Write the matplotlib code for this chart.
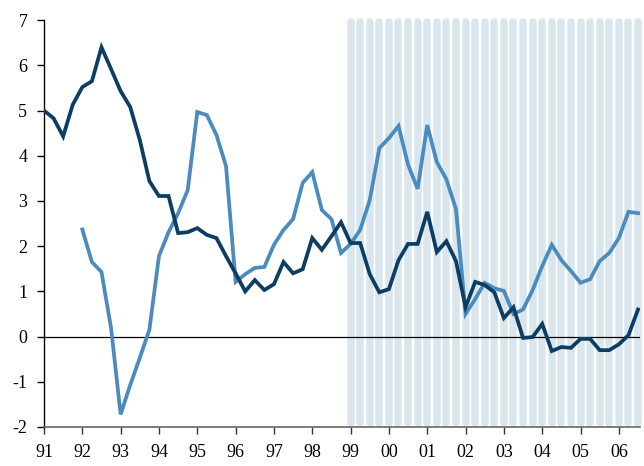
import numpy as np
import matplotlib
matplotlib.use("Agg")
import matplotlib.pyplot as plt

# quarterly series, start 1991Q1 (dark) and 1992Q1 (light)
dark = [5.0, 4.83, 4.43, 5.13, 5.52, 5.65, 6.4, 5.92, 5.43, 5.08,
        4.35, 3.44, 3.11, 3.11, 2.29, 2.31, 2.4, 2.25, 2.18, 1.78,
        1.4, 1.0, 1.25, 1.03, 1.16, 1.65, 1.4, 1.49, 2.18, 1.92,
        2.22, 2.53, 2.07, 2.07, 1.38, 0.98, 1.05, 1.69, 2.05, 2.05,
        2.76, 1.87, 2.11, 1.67, 0.65, 1.21, 1.14, 0.98, 0.41, 0.65,
        -0.03, -0.01, 0.28, -0.32, -0.23, -0.25, -0.05, -0.05, -0.3, -0.3,
        -0.17, 0.03, 0.6]
light = [2.37, 1.65, 1.43, 0.19, -1.72, -1.07, -0.47, 0.15, 1.78, 2.31,
         2.73, 3.24, 4.97, 4.9, 4.46, 3.77, 1.21, 1.38, 1.52, 1.54,
         2.03, 2.36, 2.6, 3.4, 3.64, 2.8, 2.6, 1.85, 2.05, 2.36,
         3.02, 4.17, 4.39, 4.66, 3.8, 3.27, 4.68, 3.86, 3.48, 2.82,
         0.5, 0.83, 1.19, 1.07, 1.01, 0.5, 0.6, 1.03, 1.56, 2.03,
         1.69, 1.45, 1.19, 1.27, 1.67, 1.85, 2.18, 2.76, 2.73]
years = list(range(1991, 2007))
year_labels = ["%02d" % (y % 100) for y in years]
shade_start, shade_end = 1999.0, 2006.5

x_dark = 1991 + np.arange(len(dark)) / 4.0
x_light = 1992 + np.arange(len(light)) / 4.0
x_shade = np.arange(shade_start, shade_end + 0.01, 0.25)

plt.rcParams['font.family'] = ['Liberation Serif', 'DejaVu Serif']
plt.rcParams['axes.unicode_minus'] = False

fig = plt.figure(figsize=(6.44, 4.66), dpi=100)
ax = fig.add_axes([0.0683, 0.0837, 0.926, 0.873])

ax.vlines(x_shade, -1.92, 6.96, colors="#d9e6ed", linewidth=5.4,
          capstyle="round", clip_on=False, zorder=0)
ax.axhline(0, color="black", linewidth=0.9, zorder=1)
ax.plot(x_light, light, color="#4b8bbe", linewidth=2.7, zorder=2,
        solid_joinstyle="miter")
ax.plot(x_dark, dark, color="#0d3d63", linewidth=2.7, zorder=3,
        solid_joinstyle="miter")

ax.set_xlim(1991, 2006.56)
ax.set_ylim(-2, 7)
ax.set_xticks(years)
ax.set_xticklabels(year_labels)
ax.set_yticks(range(-2, 8))

for s in ["top", "right"]:
    ax.spines[s].set_visible(False)
ax.spines["left"].set_linewidth(1.0)
ax.spines["bottom"].set_linewidth(1.2)
ax.spines["bottom"].set_color("#666666")
ax.tick_params(axis="x", direction="out", length=5, width=1, pad=7,
               labelsize=13, color="#333333")
ax.tick_params(axis="y", direction="out", length=5, width=1, pad=7,
               labelsize=13)

fig.savefig("out.png", dpi=100)
